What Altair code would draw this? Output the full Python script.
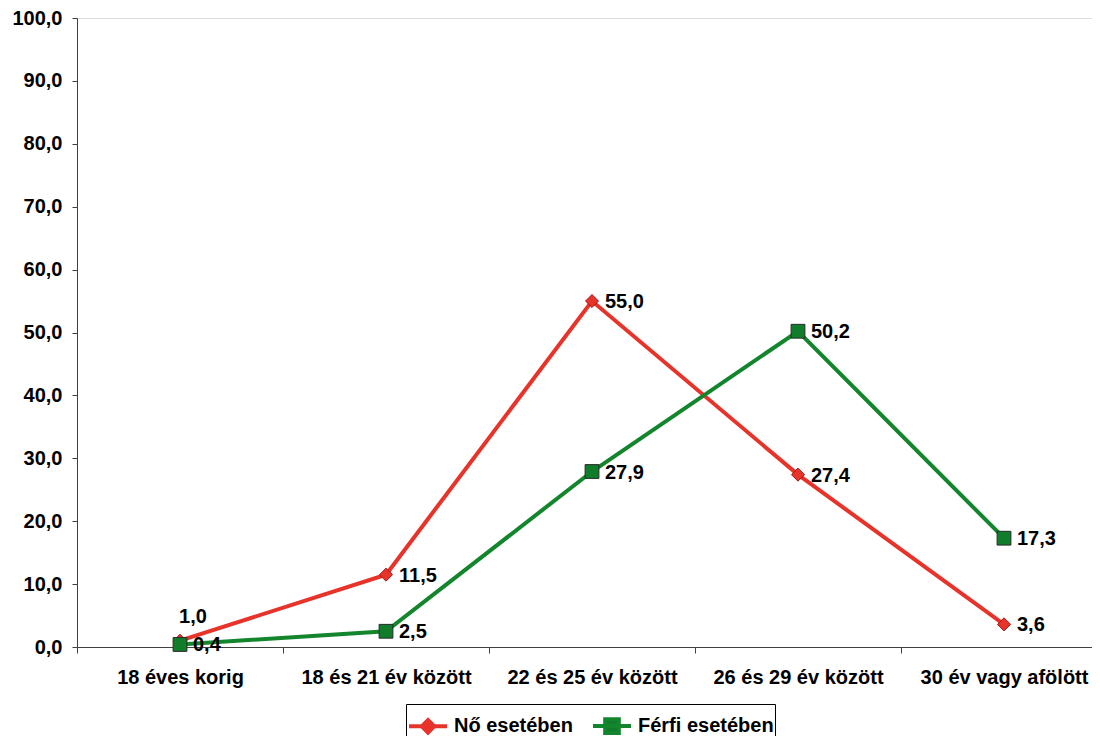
import altair as alt
import pandas as pd

categories = ["18 éves korig", "18 és 21 év között", "22 és 25 év között",
              "26 és 29 év között", "30 év vagy afölött"]
female = [1.0, 11.5, 55.0, 27.4, 3.6]
male = [0.4, 2.5, 27.9, 50.2, 17.3]
series = ["Nő esetében", "Férfi esetében"]
y_ticks = [0, 10, 20, 30, 40, 50, 60, 70, 80, 90, 100]

rows = []
for s, vals in zip(series, [female, male]):
    for c, v in zip(categories, vals):
        rows.append({"cat": c, "series": s, "value": v})
df = pd.DataFrame(rows)

FONT = "Liberation Sans"
RED = "#e8332a"
RED_DARK = "#9e1b16"
GREEN = "#13862d"
GREEN_FILL = "#0f7d29"
GREEN_DARK = "#2a2a2a"
AXIS_COLOR = "#404040"

label_expr = "replace(format(datum.value, '.1f'), '.', ',')"

x_enc = alt.X(
    "cat:N", sort=categories, bandPosition=0.5,
    scale=alt.Scale(type="band", domain=categories, range=[0, 1030],
                    paddingInner=0, paddingOuter=0),
    axis=alt.Axis(title=None, labelAngle=0, tickBand="extent", tickSize=6,
                  labelPadding=14, labelFont=FONT, labelFontSize=20,
                  labelFontWeight="bold", labelColor="black",
                  domainColor=AXIS_COLOR, tickColor=AXIS_COLOR, grid=False,
                  labelLimit=400),
)
y_enc = alt.Y(
    "value:Q",
    scale=alt.Scale(domain=[0, 100], nice=False, zero=True),
    axis=alt.Axis(title=None, values=y_ticks, labelExpr=label_expr, tickSize=5,
                  labelPadding=10, labelFont=FONT, labelFontSize=20,
                  labelFontWeight="bold", labelColor="black",
                  domainColor=AXIS_COLOR, tickColor=AXIS_COLOR, grid=False),
)

leg = alt.Legend(
    title=None, orient="none", legendX=329, legendY=686, direction="horizontal",
    labelFont=FONT, labelFontSize=20, labelFontWeight="bold", labelColor="black",
    symbolSize=1444, symbolStrokeWidth=4, strokeColor="black", padding=1,
    labelOffset=5, columnPadding=12, fillColor="white", labelLimit=400,
)

stroke_scale = alt.Scale(domain=series, range=[RED, GREEN])
fill_scale = alt.Scale(domain=series, range=[RED, GREEN_FILL])
shape_scale = alt.Scale(domain=series, range=[
    "M-1,0H1M-0.33,0L0,-0.33L0.33,0L0,0.33Z",
    "M-1,0H1M-0.36,-0.36H0.36V0.36H-0.36Z",
])

base = alt.Chart(df)

def line_layer(s):
    return base.transform_filter(alt.datum.series == s).mark_line(
        strokeWidth=4
    ).encode(x=x_enc, y=y_enc,
             stroke=alt.Stroke("series:N", scale=stroke_scale, legend=leg))

red_line = line_layer(series[0])
green_line = line_layer(series[1])

red_pts = base.transform_filter(alt.datum.series == series[0]).mark_point(
    shape="diamond", filled=True, size=170, fill=RED, stroke=RED_DARK,
    strokeWidth=1, opacity=1
).encode(x=x_enc, y=y_enc)

green_pts = base.transform_filter(alt.datum.series == series[1]).mark_point(
    shape="square", filled=True, size=190, fill=GREEN_FILL, stroke=GREEN_DARK,
    strokeWidth=1, opacity=1
).encode(x=x_enc, y=y_enc)

legend_layer = base.transform_filter("false").mark_point(
    filled=True, size=1444, strokeWidth=4, opacity=1
).encode(
    x=x_enc, y=y_enc,
    fill=alt.Fill("series:N", scale=fill_scale, legend=leg),
    stroke=alt.Stroke("series:N", scale=stroke_scale, legend=leg),
    shape=alt.Shape("series:N", scale=shape_scale, legend=leg),
)

text_props = dict(font=FONT, fontSize=20, fontWeight="bold", color="black")

labels = base.transform_filter(
    "!(datum.series == '" + series[0] + "' && datum.cat == '" + categories[0] + "')"
).transform_calculate(
    lbl=label_expr
).mark_text(align="left", baseline="middle", dx=13, dy=1, **text_props).encode(
    x=x_enc, y=y_enc, text="lbl:N"
)

label_first = base.transform_filter(
    "datum.series == '" + series[0] + "' && datum.cat == '" + categories[0] + "'"
).transform_calculate(
    lbl=label_expr
).mark_text(align="center", baseline="middle", dx=13, dy=-24, **text_props).encode(
    x=x_enc, y=y_enc, text="lbl:N"
)

chart = alt.layer(
    red_line, red_pts, green_line, green_pts, legend_layer, labels, label_first
).properties(
    width=1015, height=629,
    autosize=alt.AutoSizeParams(type="none"),
    padding={"left": 69, "top": 10, "right": 0, "bottom": 90},
).configure_view(stroke=None).configure(background="white")

chart.save("out.html", embed_options={"renderer": "svg", "actions": False})
